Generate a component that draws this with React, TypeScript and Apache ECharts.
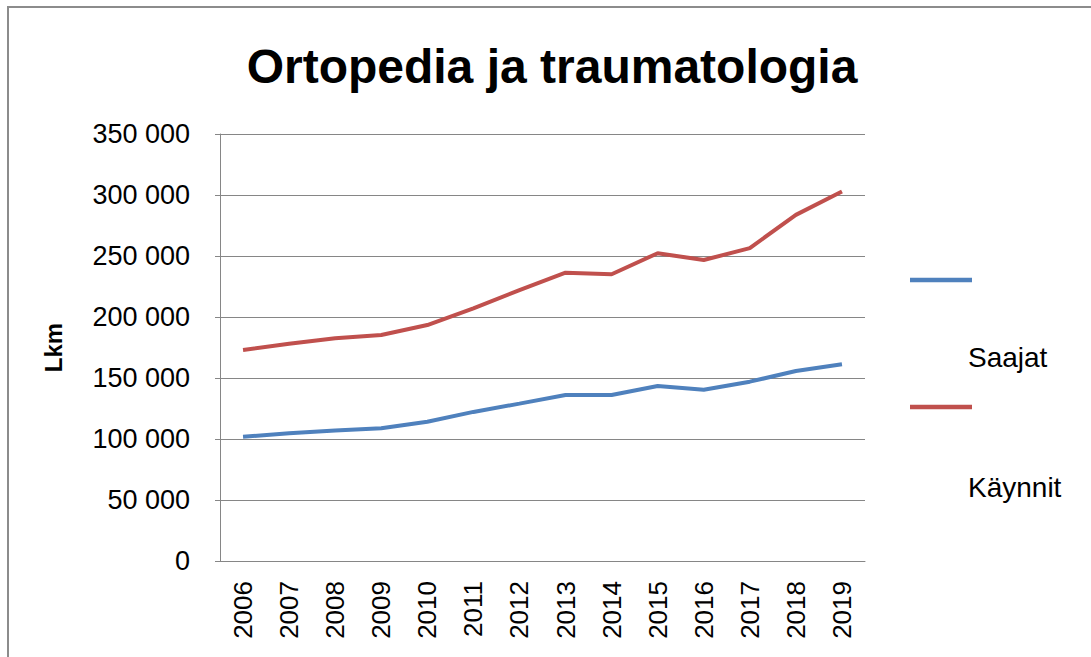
import React, { useEffect, useRef } from "react";
import * as echarts from "echarts";

const years = ["2006", "2007", "2008", "2009", "2010", "2011", "2012", "2013", "2014", "2015", "2016", "2017", "2018", "2019"];
const saajat = [101800, 104700, 106900, 108800, 114200, 122200, 129000, 136100, 136000, 143400, 140300, 147000, 155700, 161300];
const kaynnit = [173000, 178000, 182500, 185300, 193400, 207100, 222000, 236300, 235000, 252300, 246700, 256500, 283700, 302800];
const seriesNames = ["Saajat", "Käynnit"];
const seriesColors = ["#4F81BD", "#C0504D"];
const yTicks = { min: 0, max: 350000, interval: 50000 };
const titleText = "Ortopedia ja traumatologia";
const yAxisName = "Lkm";

const FONT = "'Liberation Sans', Arial, sans-serif";

function fmt(v: number): string {
  return String(Math.round(v)).replace(/\B(?=(\d{3})+(?!\d))/g, " ");
}

export default function App() {
  const ref = useRef<HTMLDivElement>(null);
  useEffect(() => {
    if (!ref.current) return;
    const chart = echarts.init(ref.current, undefined, { renderer: "svg" });
    const legendY = [280, 407];
    const legendTextY = [357, 487];
    chart.setOption({
      animation: false,
      backgroundColor: "#ffffff",
      grid: { left: 220, right: 226, top: 134, bottom: 96, containLabel: false },
      xAxis: {
        type: "category",
        data: years,
        boundaryGap: true,
        axisLine: { show: true, lineStyle: { color: "#868686", width: 1 } },
        axisTick: { show: false },
        axisLabel: { rotate: 90, fontSize: 26, color: "#000", margin: 20, fontFamily: FONT },
        splitLine: { show: false },
      },
      yAxis: {
        type: "value",
        min: yTicks.min,
        max: yTicks.max,
        interval: yTicks.interval,
        name: yAxisName,
        nameLocation: "middle",
        nameGap: 155,
        nameRotate: 90,
        nameTextStyle: { fontSize: 24, fontWeight: "bold", color: "#000", fontFamily: FONT },
        axisLine: { show: true, lineStyle: { color: "#868686", width: 1 } },
        axisTick: { show: true, length: 5, lineStyle: { color: "#868686" } },
        axisLabel: { fontSize: 27, color: "#000", margin: 30, fontFamily: FONT, formatter: (v: number) => fmt(v) },
        splitLine: { show: true, lineStyle: { color: "#868686", width: 1 } },
      },
      series: [
        {
          name: seriesNames[0],
          type: "line",
          data: saajat,
          symbol: "none",
          lineStyle: { color: seriesColors[0], width: 4 },
          itemStyle: { color: seriesColors[0] },
        },
        {
          name: seriesNames[1],
          type: "line",
          data: kaynnit,
          symbol: "none",
          lineStyle: { color: seriesColors[1], width: 4 },
          itemStyle: { color: seriesColors[1] },
        },
      ],
      graphic: [
        {
          type: "rect",
          shape: { x: 8, y: 7, width: 1200, height: 800 },
          style: { fill: "none", stroke: "#8c8c8c", lineWidth: 2 },
          silent: true,
        },
        {
          type: "text",
          x: 552,
          y: 66,
          style: {
            text: titleText,
            fontSize: 48,
            fontWeight: "bold",
            fontFamily: FONT,
            fill: "#000",
            align: "center",
            verticalAlign: "middle",
          },
        },
        ...seriesNames.flatMap((n, i) => [
          {
            type: "line",
            shape: { x1: 910, y1: legendY[i], x2: 972, y2: legendY[i] },
            style: { stroke: seriesColors[i], lineWidth: 4.5 },
          },
          {
            type: "text",
            x: 968,
            y: legendTextY[i],
            style: {
              text: n,
              fontSize: 28,
              fontFamily: FONT,
              fill: "#000",
              align: "left",
              verticalAlign: "middle",
            },
          },
        ]),
      ],
    });
    return () => chart.dispose();
  }, []);
  return (
    <div
      ref={ref}
      style={{ position: "absolute", left: 0, top: 0, width: 1091, height: 657, background: "#fff" }}
    />
  );
}
